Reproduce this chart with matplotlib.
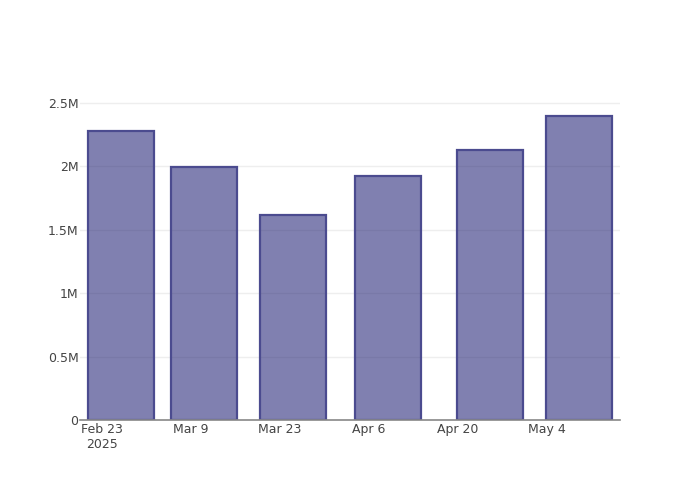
import matplotlib
matplotlib.use("Agg")
import matplotlib.pyplot as plt
import datetime as dt

dates = [dt.datetime(2025, 2, 26), dt.datetime(2025, 3, 11), dt.datetime(2025, 3, 25),
         dt.datetime(2025, 4, 9), dt.datetime(2025, 4, 25), dt.datetime(2025, 5, 9)]
values = [2.279e6, 1.995e6, 1.617e6, 1.924e6, 2.129e6, 2.397e6]

tick_dates = [dt.datetime(2025, 2, 23), dt.datetime(2025, 3, 9), dt.datetime(2025, 3, 23),
              dt.datetime(2025, 4, 6), dt.datetime(2025, 4, 20), dt.datetime(2025, 5, 4)]
tick_labels = ["Feb 23\n2025", "Mar 9", "Mar 23", "Apr 6", "Apr 20", "May 4"]
y_ticks = [0, 0.5e6, 1e6, 1.5e6, 2e6, 2.5e6]
y_labels = ["0", "0.5M", "1M", "1.5M", "2M", "2.5M"]

plt.rcParams['font.family'] = ['DejaVu Sans']
fig = plt.figure(figsize=(7, 5), dpi=100)
ax = fig.add_axes([80 / 700, 80 / 500, 540 / 700, 320 / 500])

# bar width = 0.8 of the smallest gap between dates (13 days)
ax.bar(dates, values, width=10.4, color=(25/255, 25/255, 112/255, 0.55),
       edgecolor="#4b4b8f", linewidth=1.6, zorder=2)

ax.set_xlim(dt.datetime(2025, 2, 19, 13), dt.datetime(2025, 5, 15, 11))
ax.set_ylim(0, 2.524e6)
ax.set_xticks(tick_dates)
ax.set_xticklabels(tick_labels, ha="center", va="top", multialignment="center")
ax.set_yticks(y_ticks)
ax.set_yticklabels(y_labels)
ax.tick_params(axis="both", length=0, labelsize=9, labelcolor="#444444")
ax.tick_params(axis="x", pad=2)
ax.tick_params(axis="y", pad=1)
ax.grid(axis="y", color="#eeeeee", linewidth=1, zorder=0)
for s in ["top", "right", "left"]:
    ax.spines[s].set_visible(False)
ax.spines["bottom"].set_color("#888888")
ax.spines["bottom"].set_linewidth(1.2)
ax.spines["bottom"].set_zorder(3)

fig.savefig("out.png", dpi=100)
